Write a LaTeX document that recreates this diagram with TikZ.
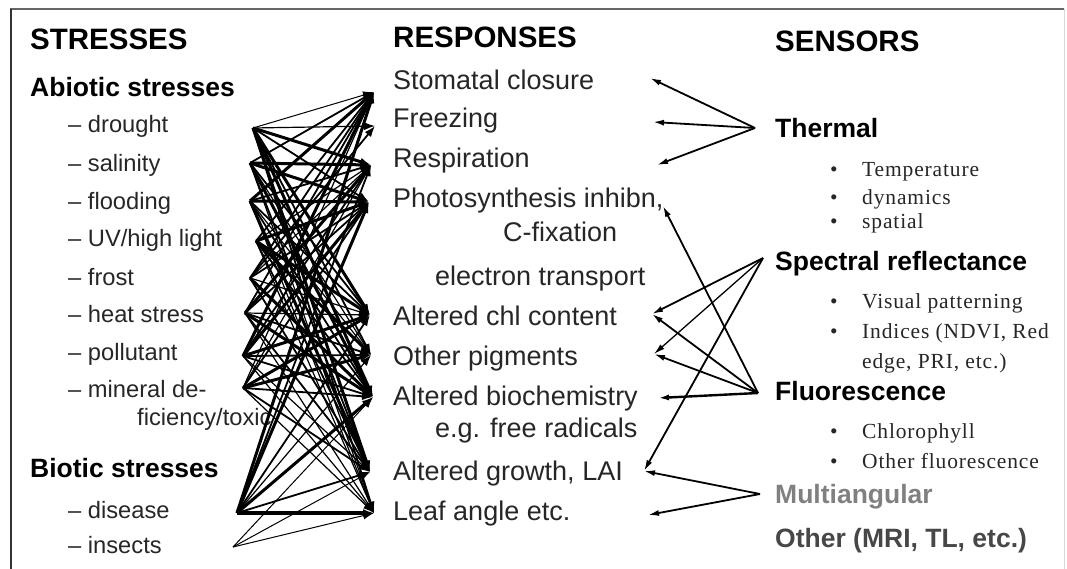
\documentclass[tikz,border=0pt]{standalone}
\usepackage{fontspec}
\setmainfont{Liberation Sans}
\newfontfamily\serif[LetterSpace=4]{Liberation Serif}
\usetikzlibrary{arrows.meta}
\begin{document}
\begin{tikzpicture}[x=1pt,y=-1pt,
  hdr/.style={anchor=base west, inner sep=0pt, font=\fontsize{29.5}{31}\selectfont\bfseries},
  sub/.style={anchor=base west, inner sep=0pt, font=\fontsize{26.5}{28}\selectfont\bfseries},
  item/.style={anchor=base west, inner sep=0pt, font=\fontsize{23.7}{26}\selectfont, text=black!85},
  resp/.style={anchor=base west, inner sep=0pt, font=\fontsize{27}{29}\selectfont, text=black!85},
  sens/.style={anchor=base west, inner sep=0pt, font=\fontsize{26.5}{28}\selectfont\bfseries},
  bul/.style={anchor=base west, inner sep=0pt, font=\serif\fontsize{21.5}{23}\selectfont, text=black!85},
  con/.style={-{Latex[length=11pt,width=8pt]}, draw=black},
  rcon/.style={-{Latex[length=11pt,width=6pt]}, draw=black, line width=1.8pt},
]
\useasboundingbox (0,0) rectangle (1067,569);
% frame
\draw[line width=2.5pt, draw=black!60] (10,9) -- (1064,9);
\draw[line width=2.5pt, draw=black!80] (11,9) -- (11,569);
\draw[line width=1pt, draw=black!15] (1064,9) -- (1064,569);

% ---------- STRESSES column ----------
\node[hdr] (hs) at (30,50) {STRESSES};
\node[sub] (ab) at (30,97) {Abiotic stresses};
\node[item] (t-dr) at (68,133) {– drought};
\node[item] (t-sa) at (68,172) {– salinity};
\node[item] (t-fl) at (68,210) {– flooding};
\node[item] (t-uv) at (68,247) {– UV/high light};
\node[item] (t-fr) at (68,285) {– frost};
\node[item] (t-he) at (68,322) {– heat stress};
\node[item] (t-po) at (68,360) {– pollutant};
\node[item] (t-mi) at (68,397) {– mineral de-};
\node[item] (t-mi2) at (137,425) {ficiency/toxic};
\node[sub] (bi) at (30,477) {Biotic stresses};
\node[item] (t-di) at (68,518) {– disease};
\node[item] (t-in) at (68,553) {– insects};

% ---------- RESPONSES column ----------
\node[hdr] (hr) at (393,48) {RESPONSES};
\node[resp] (r-st) at (393,90) {Stomatal closure};
\node[resp] (r-fz) at (393,128) {Freezing};
\node[resp] (r-re) at (393,168) {Respiration};
\node[resp] (r-ph) at (393,208) {Photosynthesis inhibn,};
\node[resp] (r-cf) at (503,242) {C-fixation};
\node[resp] (r-et) at (435,285) {electron transport};
\node[resp] (r-chl) at (393,325) {Altered chl content};
\node[resp] (r-pig) at (393,365) {Other pigments};
\node[resp] (r-bio) at (393,405) {Altered biochemistry};
\node[resp] (r-fr) at (435,437) {e.g. free radicals};
\node[resp] (r-gr) at (393,480) {Altered growth, LAI};
\node[resp] (r-la) at (393,520) {Leaf angle etc.};

% ---------- SENSORS column ----------
\node[hdr] (hse) at (775,52) {SENSORS};
\node[sens] (n-th) at (775,138) {Thermal};
\node[bul] (b-1) at (830,177) {\makebox[32pt][l]{•}Temperature};
\node[bul] (b-2) at (830,205) {\makebox[32pt][l]{•}dynamics};
\node[bul] (b-3) at (830,229) {\makebox[32pt][l]{•}spatial};
\node[sens] (n-sp) at (775,270) {Spectral reflectance};
\node[bul] (b-4) at (830,308) {\makebox[32pt][l]{•}Visual patterning};
\node[bul] (b-5) at (830,338) {\makebox[32pt][l]{•}Indices (NDVI, Red};
\node[bul] (b-6) at (862,368) {edge, PRI, etc.)};
\node[sens] (n-fl) at (775,400) {Fluorescence};
\node[bul] (b-7) at (830,438) {\makebox[32pt][l]{•}Chlorophyll};
\node[bul] (b-8) at (830,468) {\makebox[32pt][l]{•}Other fluorescence};
\node[sens, text=black!50] (n-mu) at (775,503) {Multiangular};
\node[sens, text=black!72] (n-ot) at (775,547) {Other (MRI, TL, etc.)};

% ---------- anchor coordinates ----------
% stresses (line starts)
\coordinate (s-dr) at (253,128);
\coordinate (s-sa) at (250,163);
\coordinate (s-fl) at (250,201);
\coordinate (s-uv) at (256,241);
\coordinate (s-fr) at (250,278);
\coordinate (s-he) at (245,313);
\coordinate (s-po) at (243,356);
\coordinate (s-mi) at (243,388);
\coordinate (s-di) at (237,513);
\coordinate (s-in) at (233,547);
% responses, left side (arrow tips)
\coordinate (l-st) at (374,92);
\coordinate (l-fz) at (375,126);
\coordinate (l-re) at (371,165);
\coordinate (l-ph) at (369,202);
\coordinate (l-chl) at (370,315);
\coordinate (l-pig) at (371,355);
\coordinate (l-bio) at (373,397);
\coordinate (l-gr) at (370,472);
\coordinate (l-la) at (374,513);
% responses, right side (arrow tips)
\coordinate (q-st) at (650,78);
\coordinate (q-fz) at (653,122);
\coordinate (q-re) at (657,165);
\coordinate (q-ph) at (663,206);
\coordinate (q-chl) at (652,314);
\coordinate (q-pig) at (654,354);
\coordinate (q-bio) at (658,398);
\coordinate (q-gr) at (644,471);
\coordinate (q-la) at (648,515);
% sensors (line starts)
\coordinate (c-th) at (755,128);
\coordinate (c-sp) at (763,258);
\coordinate (c-fl) at (758,393);
\coordinate (c-mu) at (760,494);

% ---------- stress -> response connectors ----------
\foreach \s/\r/\w in {
  dr/st/1.0, dr/re/3.0, dr/ph/1.8, dr/chl/3.0, dr/pig/1.8, dr/bio/3.0, dr/gr/3.0, dr/la/1.8, dr/fz/1.2,
  sa/st/1.8, sa/re/3.0, sa/ph/3.0, sa/chl/1.8, sa/bio/3.0, sa/gr/1.8, sa/pig/1.2, sa/la/1.2,
  fl/st/3.0, fl/re/1.8, fl/ph/3.0, fl/chl/1.8, fl/pig/1.2, fl/bio/1.8, fl/gr/3.0, fl/la/1.2,
  uv/st/1.8, uv/ph/3.0, uv/chl/3.0, uv/pig/3.0, uv/bio/1.8, uv/la/1.2, uv/re/1.2, uv/gr/1.8,
  fr/st/1.8, fr/fz/1.8, fr/re/1.2, fr/ph/1.8, fr/bio/3.0, fr/gr/1.8, fr/chl/1.2,
  he/st/1.8, he/re/3.0, he/ph/1.8, he/chl/1.2, he/pig/1.8, he/bio/3.0, he/la/1.2, he/gr/1.8,
  po/st/3.0, po/re/1.8, po/ph/3.0, po/chl/3.0, po/pig/1.8, po/bio/1.8, po/gr/1.2, po/la/1.2,
  mi/ph/1.8, mi/chl/3.0, mi/pig/3.0, mi/bio/1.8, mi/gr/1.8, mi/st/1.2, mi/re/1.2, mi/la/1.2,
  di/st/3.0, di/re/1.8, di/ph/3.0, di/chl/1.8, di/pig/1.2, di/bio/3.0, di/gr/1.8, di/la/3.2,
  in/gr/1.0, in/la/1.0, in/bio/1.0}
  \draw[con, line width=\w pt] (s-\s) -- (l-\r);

% ---------- sensor -> response connectors ----------
\draw[rcon] (c-th) -- (q-st);
\draw[rcon] (c-th) -- (q-fz);
\draw[rcon] (c-th) -- (q-re);
\draw[rcon] (c-sp) -- (q-chl);
\draw[rcon, line width=1.3pt] (c-sp) -- (q-pig);
\draw[rcon] (c-sp) -- (q-gr);
\draw[rcon] (c-fl) -- (q-ph);
\draw[rcon] (c-fl) -- (q-chl);
\draw[rcon] (c-fl) -- (q-pig);
\draw[rcon, line width=2.4pt] (c-fl) -- (q-bio);
\draw[rcon] (c-mu) -- (q-gr);
\draw[rcon] (c-mu) -- (q-la);
\end{tikzpicture}
\end{document}
